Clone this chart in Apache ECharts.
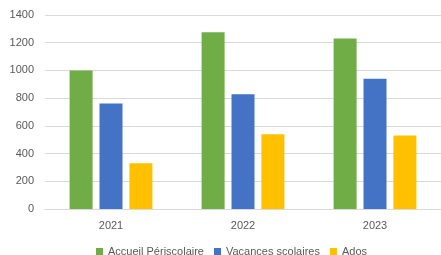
<!DOCTYPE html>
<html style="height: 100%">
    <head>
        <meta charset="utf-8">
    </head>
    <body style="height: 100%; margin: 0; background: #fff">
        <div id="container" style="width: 441px; height: 255px"></div>
        <script type="text/javascript" src="https://cdn.jsdelivr.net/npm/echarts@6/dist/echarts.min.js"></script>
        <script type="text/javascript">

var years = ['2021', '2022', '2023'];
var periscolaire = [1000, 1275, 1230];
var vacances = [762, 828, 940];
var ados = [330, 540, 530];

var myChart = echarts.init(document.getElementById('container'));

var font = 'Liberation Sans';
var textColor = '#595959';

function bar(name, values, color) {
    return {
        name: name,
        type: 'bar',
        data: values,
        barWidth: 23,
        barGap: '30%',
        itemStyle: { color: color }
    };
}

var option = {
    animation: false,
    grid: { left: 45, right: 0, top: 15, bottom: 46 },
    legend: {
        left: 91,
        top: 241,
        itemWidth: 7,
        itemHeight: 7,
        itemGap: 10,
        icon: 'rect',
        textStyle: { fontFamily: font, fontSize: 11, color: textColor }
    },
    xAxis: {
        type: 'category',
        data: years,
        axisTick: { show: false },
        axisLine: { lineStyle: { color: '#d9d9d9' } },
        axisLabel: { fontFamily: font, fontSize: 11, color: textColor, margin: 11 }
    },
    yAxis: {
        type: 'value',
        min: 0,
        max: 1400,
        interval: 200,
        axisLabel: {
            fontFamily: font, fontSize: 11, color: textColor, margin: 11,
            formatter: function (v) { return String(v); }
        },
        splitLine: { lineStyle: { color: '#d9d9d9' } }
    },
    series: [
        bar('Accueil Périscolaire', periscolaire, '#70AD47'),
        bar('Vacances scolaires', vacances, '#4472C4'),
        bar('Ados', ados, '#FFC000')
    ]
};

myChart.setOption(option);

        </script>
    </body>
</html>
